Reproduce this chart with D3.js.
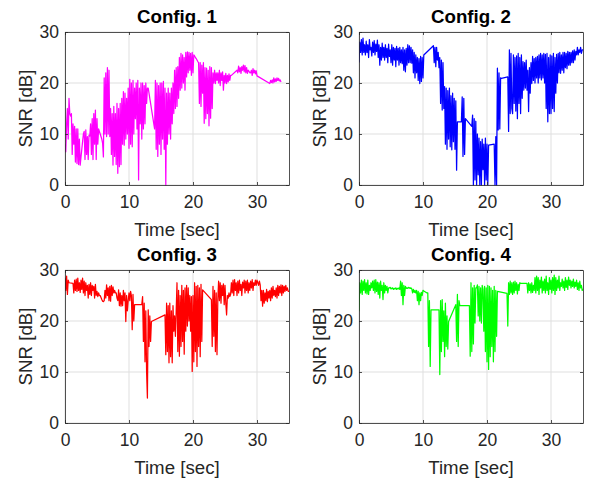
<!DOCTYPE html>
<html><head><meta charset="utf-8">
<script src="https://cdn.jsdelivr.net/npm/d3@7"></script>
<style>body{margin:0;background:#fff}svg{display:block}</style>
</head><body>
<svg id="chart" width="589" height="480"></svg>
<script>
const titles = ["Config. 1", "Config. 2", "Config. 3", "Config. 4"];
const colors = ["#ff00ff", "#0000ff", "#ff0000", "#00ff00"];
const xTicks = [0, 10, 20, 30];
const yTicks = [0, 10, 20, 30];
const xDomain = [0, 35];
const yDomain = [0, 30];
const xLabel = "Time [sec]";
const yLabel = "SNR [dB]";
const sampleStep = 0.125; // seconds between samples; null = no sample

const cfg1 = [
8,6.5,12,15,9,17,14,13.5,
14,6,12,8,11.5,4.5,11,4.2,
11,4,9,3.9,5.5,7,8.5,10,
10.5,5,10.8,6,9.5,5,9.8,9.6,
12,6,13,5,14,8,14.7,5,
13,8,11,10.5,10,9.5,9,8.2,
5.5,21,10,22,9.5,23,10,22.5,
9.5,15,6,14,3.9,15.4,5.6,14,
4,16,2.3,15,3.6,16,4,17,
8,18.3,7.8,18,9,17,10,19,
7.2,20.7,8,20,7.5,20.5,10,19,
13,20,11,20.5,1.0,19,12,20,
9,20,11,19.5,12,20,16,19,
19,18,17,16,15,14,13,12,
11,20.5,7,20,5.6,19.5,8,20,
6,20,9,20.3,7,19,0,18,
8,19,10,18,9,19,12,20,
14,22.5,15,23,15.4,23.2,17,25,
18.6,25.8,19,25.5,20,25,18.6,26,
21.2,26.1,22,26,22.5,25.8,21.5,26,
22,25.5,25.3,25,24.8,24.5,24.2,24,
16,24,15.4,23.5,18,24,12.1,23,
13,22.9,14,22.5,11.6,23.2,13.1,23,
15,22,20,22.5,19.9,22,20.5,22,
20,22.5,19.5,22,20.5,22.2,18.6,21.5,
20,21.9,19.9,21.5,20.2,21.8,20.5,21.5,
21.5,null,null,null,null,null,null,22.5,
22,23.3,22.2,23,21.9,23.2,22.5,23.5,
22.2,23.4,22,23,21.9,22.5,22.3,22,
22,22.5,21.5,22.8,22,22.5,21.8,22.4,
21.4,null,null,null,null,null,null,null,
null,null,null,null,null,null,null,null,
19.9,20.5,20.1,20.6,20,21,20.2,20.8,
20.3,21,20.5,20.9,20.4,20.6,20.2
];

const cfg2 = [
24,28,26,28.5,25.5,28.8,26,27.5,
25.5,28.2,26,27.5,25,28.5,26.5,27,
25.3,28,26,28.3,25.5,27.6,26.2,28.4,
25,27.5,23.5,27,24.5,27.8,25,27,
24.5,27.5,25,26.8,24,27.6,25.2,26.5,
24,27.5,23.5,27,24.5,26.8,23.2,27.2,
24.5,26.8,23.5,27,24,26.5,23.8,27,
22.5,26.5,22.2,26.8,23.5,27.5,24,27.3,
24,27,23.9,26.5,22,26,21,25.5,
22,25,20.5,24.8,19.9,25.2,20.3,25,
21,25.5,null,null,null,null,null,null,
null,null,null,null,null,27.3,24,27,
23.2,27,24.5,26,23,25,16,24.5,
14.7,24,15,19.3,8,19,7,18.5,
9,19,7.5,17.5,6.9,18,8.5,17,
7,16.5,2.9,12.4,null,null,null,null,
12.4,17.3,5.6,17,6,13,null,null,
null,null,null,null,null,11.5,13.7,0,
13,1,12.5,0,10,2,9.2,0,
8.5,0,9,3,8,0,9.2,1,
8,0,7.8,null,null,null,null,null,
null,8,0,9.5,0,22.9,10.8,22,
11,21,20.9,null,null,null,null,null,
null,null,21.2,10.5,26.5,14,25.8,15,
14,25.5,16,25,14.5,25.3,13,25.8,
16,25,14,25.5,17,24.2,18.6,24,
19,24.5,18.6,22.5,14.4,23,18,24,
19.9,25.2,20.5,24.8,20,25,21,25.2,
20,25.5,21,25.8,20.6,25.5,21,25.8,
20,25.6,15,25.8,12.4,25,14,25.5,
14,25.3,15,25.8,14.4,25,18,25.6,
20,25.8,22,26,21.9,25.5,22.5,26,
22,26,23,25.8,22.8,26.2,23.5,26,
23.5,26,24,26.3,24,26.5,24.5,26.2,
25.5,27,25.5,26.5,26,27,25.8,26.5,
26.5
];

const cfg3 = [
28.5,26,28.8,25.2,28,27.5,null,null,
null,null,27.4,25.5,28,26,28.2,25.8,
28.4,26,27.5,25.6,28,26.2,28.4,25.5,
27.8,25,27.5,26,27,24.5,27.2,25.2,
27.5,25,27,26,26.8,24.5,27.2,25,
25.8,24.8,25.5,25,25,24.6,24.2,23.9,
23.8,24,26,24.5,27.1,25,26.5,24,
26.8,23.9,27,25,26.7,25.5,26,25.5,
25.5,24.5,24,26.1,23,25.5,22.9,25,
23,26,24,25.5,19.9,25,22,24,
25.5,24,25.8,25,18.3,25.2,20,23.2,
null,null,null,null,null,null,null,null,
23.2,24.8,16,23.5,12,22,10,4.9,
22.2,15,21,16,19.9,null,null,null,
null,null,null,null,null,null,null,null,
null,null,null,null,null,21.2,13.4,23.5,
14,23,11.8,23.5,13,22,11.8,23,
18,21,17,22,27.5,14,26,13.1,
25,15,27,16,26,13.5,26.5,18,
27,19,26.5,20,25,18,24.8,10.1,
25,12,27.5,14,26.8,11.1,27,15,
26.5,13,27.2,16,26.1,null,null,null,
null,null,null,null,null,null,null,24.2,
15,26.8,17,26,14,25.5,13.4,24,
27.8,24,27.5,23.5,27,25,27.3,23.2,
27,23.5,21.2,25,24.5,25.5,24.8,25.2,
27.5,25.5,28,25,28.1,26,27.5,25,
27.8,25.5,28,26,27.2,25,27.6,26.5,
28,25.5,27.8,26,28,25.5,27.5,26,
27.8,26.5,28.1,26,27.5,27,28,27,
28,27.5,27,27.8,27.1,24,26,22.9,
26,23.5,25.5,24,26.2,23.8,25.8,24.5,
26,24,26.5,24.5,26.8,25,26,24.8,
26.5,24.5,27,25,26.8,25.5,27.1,25,
27,25.5,26.8,25.8,27,26,26.5,25.8,
25.8
];

const cfg4 = [
21.9,27.5,25.5,28,25.2,27.8,26,28.1,
25.5,27.5,25.3,28,25.2,27,26,27.5,
26.5,27.8,26,28,25.5,28.1,25.8,27.6,
25.2,27.5,24.5,27.8,26,27,24.2,27.5,
25.5,27,26,26.8,25.5,26.5,26.5,26.6,
26.3,26.4,26.5,26.2,26.4,26.3,26.5,26.2,
26.4,26.3,26.5,26.2,27.8,25,27.5,23.2,
27,25,26.8,26.4,26.5,26.4,26.6,26.5,
26.4,26.5,26.3,25.5,26.2,25.6,26,25.5,
26,24,25.8,23.2,25.5,24,25.6,25,
26,25.9,25.8,25.7,25.6,25.5,25.5,15,
24,11.1,22.2,null,null,null,null,null,
null,null,null,null,22.2,9.5,24,14,
24.2,16,22,13,23.5,15,21,14.5,
19.9,null,null,null,null,null,null,null,
null,23.2,16,25.2,15,24,23,null,
null,null,null,null,null,null,null,null,
null,null,23,13.1,27.5,14,26.5,15.5,
27,19.6,26.5,26.5,27.1,21,26.8,20,
26.5,19.6,27,26.2,18,26.8,14,26.5,
12,27,10.5,26.8,13,26.5,15,26,
12,26.8,14,26,17,25.8,null,null,
null,null,null,null,null,null,null,null,
null,25.4,19,27.5,25.2,27.8,25.5,27.5,
25.2,27.6,25.5,27.8,26,27.5,25.3,27.2,
26,27.5,27.4,null,null,null,null,null,
null,null,27.4,25.5,27.5,26,27.3,25.5,
27.5,25.6,27,26,28.5,25.5,28.8,26,
28.5,25.2,28,26.5,28.6,25.5,27.8,26,
28.2,25.5,28.8,26,27.5,25.2,28.5,26.2,
28,25.5,28.5,26,29,25.2,28.5,26,
28,26.5,28.8,26,27.5,26.8,28.2,26.5,
27.8,26,28.5,26.6,28,26.2,28.6,27,
28,26.5,27.8,26.8,28.2,26.5,27.6,26.8,
28,26.2,27.5,26,27.8,26.5,27,26,
26.3
];

const series = [cfg1, cfg2, cfg3, cfg4];

// layout
const panelW = 224, panelH = 153;
const panelPos = [[65, 32], [359, 32], [65, 270], [359, 270]];
const FONT = "'Liberation Sans', Arial, Helvetica, sans-serif";
const axisColor = "#262626";
const gridColor = "#dfdfdf";

const svg = d3.select("#chart");
const x = d3.scaleLinear().domain(xDomain).range([0, panelW]);
const y = d3.scaleLinear().domain(yDomain).range([panelH, 0]);

series.forEach((vals, k) => {
  const [px, py] = panelPos[k];
  const g = svg.append("g").attr("transform", `translate(${px},${py})`);

  // grid
  g.append("g").selectAll("line").data(xTicks).join("line")
    .attr("x1", d => x(d)).attr("x2", d => x(d))
    .attr("y1", 0).attr("y2", panelH)
    .attr("stroke", gridColor).attr("stroke-width", 1);
  g.append("g").selectAll("line").data(yTicks).join("line")
    .attr("y1", d => y(d)).attr("y2", d => y(d))
    .attr("x1", 0).attr("x2", panelW)
    .attr("stroke", gridColor).attr("stroke-width", 1);

  // data line
  const clipId = "clip" + k;
  g.append("clipPath").attr("id", clipId).append("rect")
    .attr("x", 0).attr("y", -1).attr("width", panelW).attr("height", panelH + 2);
  const pts = vals.map((v, i) => ({ t: i * sampleStep, v })).filter(d => d.v !== null);
  const line = d3.line().x(d => x(d.t)).y(d => y(d.v));
  g.append("path").datum(pts)
    .attr("clip-path", `url(#${clipId})`)
    .attr("d", line)
    .attr("fill", "none")
    .attr("stroke", colors[k])
    .attr("stroke-width", 1.25)
    .attr("stroke-linejoin", "round");

  // axes
  const styleAxis = sel => {
    sel.select(".domain").attr("stroke", axisColor).attr("stroke-width", 0.8);
    sel.selectAll(".tick line").attr("stroke", axisColor).attr("stroke-width", 0.8);
    sel.selectAll(".tick text").attr("fill", axisColor)
      .style("font-family", FONT).style("font-size", "17.5px");
  };
  g.append("g").attr("transform", `translate(0,${panelH})`)
    .call(d3.axisBottom(x).tickValues(xTicks).tickSize(-3).tickSizeOuter(0).tickPadding(11))
    .call(styleAxis);
  g.append("g")
    .call(d3.axisLeft(y).tickValues(yTicks).tickSize(-3).tickSizeOuter(0).tickPadding(6))
    .call(styleAxis);
  g.append("g")
    .call(d3.axisTop(x).tickValues(xTicks).tickSize(-3).tickSizeOuter(0).tickFormat(""))
    .call(styleAxis);
  g.append("g").attr("transform", `translate(${panelW},0)`)
    .call(d3.axisRight(y).tickValues(yTicks).tickSize(-3).tickSizeOuter(0).tickFormat(""))
    .call(styleAxis);
  g.selectAll(".domain").attr("fill", "none");

  // title
  g.append("text").attr("x", panelW / 2).attr("y", -9.5)
    .attr("text-anchor", "middle")
    .style("font-family", FONT).style("font-size", "18.7px").style("font-weight", "bold")
    .attr("fill", "#000").text(titles[k]);
  // x label
  g.append("text").attr("x", panelW / 2).attr("y", panelH + 51)
    .attr("text-anchor", "middle")
    .style("font-family", FONT).style("font-size", "18.7px")
    .attr("fill", axisColor).text(xLabel);
  // y label
  g.append("text").attr("transform", `translate(-33,${panelH / 2}) rotate(-90)`)
    .attr("text-anchor", "middle")
    .style("font-family", FONT).style("font-size", "18.7px")
    .attr("fill", axisColor).text(yLabel);
});
</script>
</body></html>
